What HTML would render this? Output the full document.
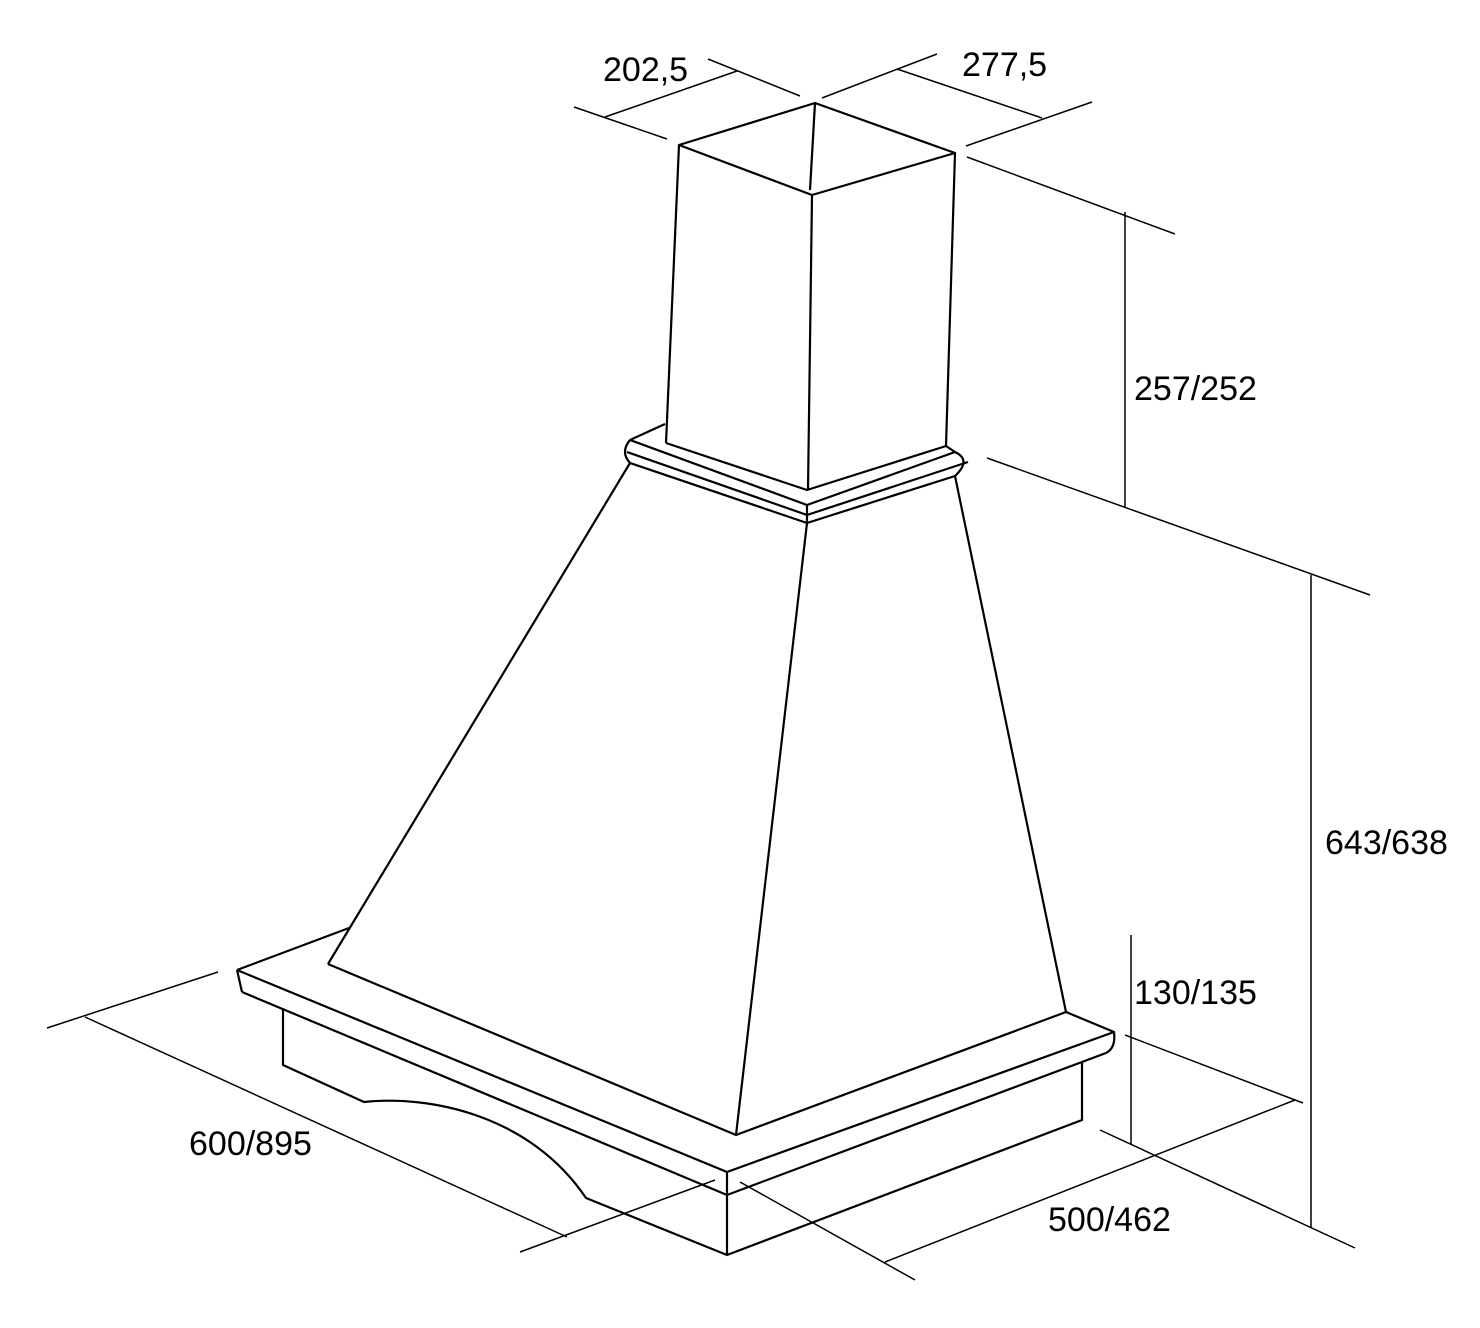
<!DOCTYPE html>
<html><head><meta charset="utf-8"><style>
html,body{margin:0;padding:0;background:#fff}
svg{display:block}
text{font-family:"Liberation Sans",sans-serif;font-size:34px;fill:#000}
</style></head><body>
<svg width="1480" height="1328" viewBox="0 0 1480 1328" xmlns="http://www.w3.org/2000/svg">
<g fill="none" stroke="#000" stroke-width="2.2" stroke-linejoin="round">
<path d="M679,145 L815,103 L955,153 L812,195 Z"/>
<path d="M815,103 L810,190"/>
<path d="M679,145 L666,443 M812,195 L808,490 M955,153 L946,446"/>
<path d="M666,443 L807,490 L946,446"/>
<path d="M630,440 L665,424"/>
<path d="M946,446 L955,452"/>
<path d="M630,440 L807,505 L955,452"/>
<path d="M627,452 L807,515 L968,462"/>
<path d="M630,463 L807,523 L955,476"/>
<path d="M630,440 Q620,452 630,463"/>
<path d="M955,452 Q972,460 955,476"/>
<path d="M807,505 L807,523"/>
<path d="M630,463 L328,964"/>
<path d="M955,476 L1066,1012"/>
<path d="M807,523 L736,1135"/>
<path d="M328,964 L736,1135 L1066,1012"/>
<path d="M237,970 L349,928"/>
<path d="M237,970 L727,1172 L1114,1032 L1066,1012"/>
<path d="M242,992 L727,1195 L1106,1053"/>
<path d="M237,970 L242,992"/>
<path d="M1114,1032 Q1116,1048 1106,1053"/>
<path d="M727,1172 L727,1255"/>
<path d="M283,1008 L283,1065 L364,1102 C430,1095 530,1115 586,1198 L727,1255 L1082,1120 L1082,1063"/>
</g>
<g fill="none" stroke="#000" stroke-width="1.5">
<path d="M574,107 L667,139 M708,59 L800,96 M605,117 L737,71"/>
<path d="M822,98 L937,54 M897,69 L1042,118 M966,146 L1092,102"/>
<path d="M967,157 L1175,234 M1125,212 L1125,508 M987,458 L1370,595"/>
<path d="M1311,575 L1311,1228"/>
<path d="M1131,935 L1131,1145 M1125,1035 L1303,1103"/>
<path d="M885,1262 L1295,1100 M1100,1130 L1355,1248 M740,1182 L915,1280"/>
<path d="M47,1028 L218,972 M85,1017 L567,1237 M520,1252 L715,1180"/>
</g>
<text x="603" y="81">202,5</text>
<text x="962" y="76">277,5</text>
<text x="1134" y="400">257/252</text>
<text x="1325" y="854">643/638</text>
<text x="1134" y="1004">130/135</text>
<text x="189" y="1155">600/895</text>
<text x="1048" y="1231">500/462</text>
</svg>
</body></html>
